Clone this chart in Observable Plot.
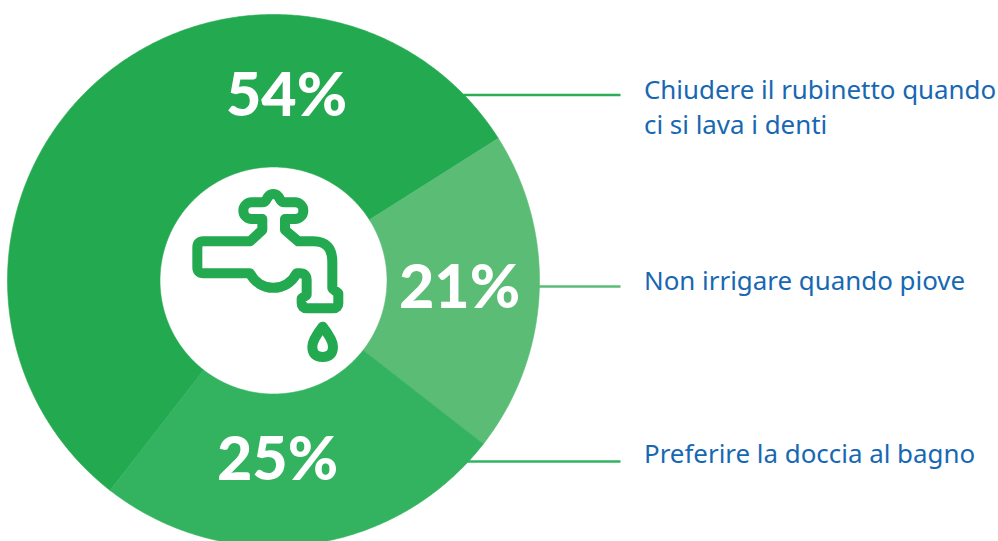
<!DOCTYPE html>
<html><head><meta charset="utf-8">
<style>html,body{margin:0;padding:0;background:#fff;overflow:hidden}svg{display:block}</style>
<script src="https://cdn.jsdelivr.net/npm/d3@7"></script>
<script src="https://cdn.jsdelivr.net/npm/@observablehq/plot@0.6"></script>
</head><body><div id="chart"></div>
<script>
const categories = ["Chiudere il rubinetto quando\nci si lava i denti", "Non irrigare quando piove", "Preferire la doccia al bagno"];
const printedLabels = ["54%", "21%", "25%"];
// Angular shares as drawn in the picture (these differ slightly from the printed percentages)
const drawnShares = [55.5, 19.5, 25];
const sliceColors = ["#23a94f", "#5bbc75", "#33b35f"];
const lineColors = ["#2bad56", "#5bbc75", "#33b35f"];

const W = 998, H = 541, cx = 273, cy = 280, R = 266, r0 = 113.5;
const startAngle = (57.7 - 199.8) * Math.PI / 180;
const arcs = d3.pie().sort(null).startAngle(startAngle).endAngle(startAngle + 2 * Math.PI)(drawnShares);

const ring = (a) => {
  const n = Math.ceil((a.endAngle - a.startAngle) * 120);
  const ts = d3.range(n + 1).map(i => a.startAngle + (a.endAngle - a.startAngle) * i / n);
  const outer = ts.map(t => ({x: cx + R * Math.sin(t), y: cy - R * Math.cos(t)}));
  const inner = ts.slice().reverse().map(t => ({x: cx + r0 * Math.sin(t), y: cy - r0 * Math.cos(t)}));
  return [...outer, ...inner, outer[0]];
};

const pctAnchors = [[286, 96], [459, 288], [277, 460]];
const labelX = 643.5, labelYs = [105, 278, 451.5];
const leaderYs = [94.5, 286, 461], leaderEnd = 620;

const faucet = "M277,147 L245,147 A25,25 0 0 1 245,97 L277,97 Q285,97 290,88 Q297,72 310,72 Q323,72 330,88 Q335,97 343,97 L375,97 A25,25 0 0 1 375,147 L345,147 L345,180 L385,214 L430,214 Q487,214 487,275 L487,355 L505,370 L505,400 Q505,415 490,415 L410,415 Q395,415 395,400 L395,385 L410,375 L410,330 Q410,310 390,310 L380,310 A78,78 0 0 1 240,310 L100,310 Q82,310 82,292 L82,232 Q82,214 100,214 L240,214 L277,180 Z";
const drop = "M458,470 Q427,510 427,530 Q427,561 458,561 Q489,561 489,530 Q489,510 458,470 Z";

const iconMark = () => {
  const g = d3.create("svg:g").attr("transform", "translate(170,170) scale(0.3333)")
    .attr("fill", "none").attr("stroke", sliceColors[0]).attr("stroke-width", 30).attr("stroke-linejoin", "round");
  g.append("path").attr("d", faucet);
  g.append("path").attr("d", drop);
  return g.node();
};

const leaders = leaderYs.map((y, i) => ({
  x1: cx + Math.sqrt(R * R - (y - cy) * (y - cy)) - 1, x2: leaderEnd, y, color: lineColors[i]
}));

const plot = Plot.plot({
  width: W, height: H, margin: 0,
  style: {background: "#fff", overflow: "hidden"},
  x: {axis: null, domain: [0, W], range: [0, W]},
  y: {axis: null, domain: [0, H], range: [0, H]},
  marks: [
    ...leaders.map(d => Plot.link([d], {x1: "x1", x2: "x2", y1: "y", y2: "y", stroke: d.color, strokeWidth: 2.5})),
    ...arcs.map((a, i) => Plot.line(ring(a), {x: "x", y: "y", fill: sliceColors[i], stroke: sliceColors[i], strokeWidth: 0.6})),
    Plot.text(printedLabels.map((t, i) => ({t, x: pctAnchors[i][0], y: pctAnchors[i][1]})), {
      x: "x", y: "y", text: "t", fill: "#fff", fontSize: 61, fontWeight: 900, fontFamily: "Lato"
    }),
    Plot.text(categories.map((t, i) => ({t, x: labelX, y: labelYs[i]})), {
      x: "x", y: "y", text: "t", textAnchor: "start", fill: "#1767b3", fontSize: 25.9, lineHeight: 1.35, fontFamily: "'Noto Sans'"
    }),
    iconMark
  ]
});
document.getElementById("chart").append(plot);
</script></body></html>
